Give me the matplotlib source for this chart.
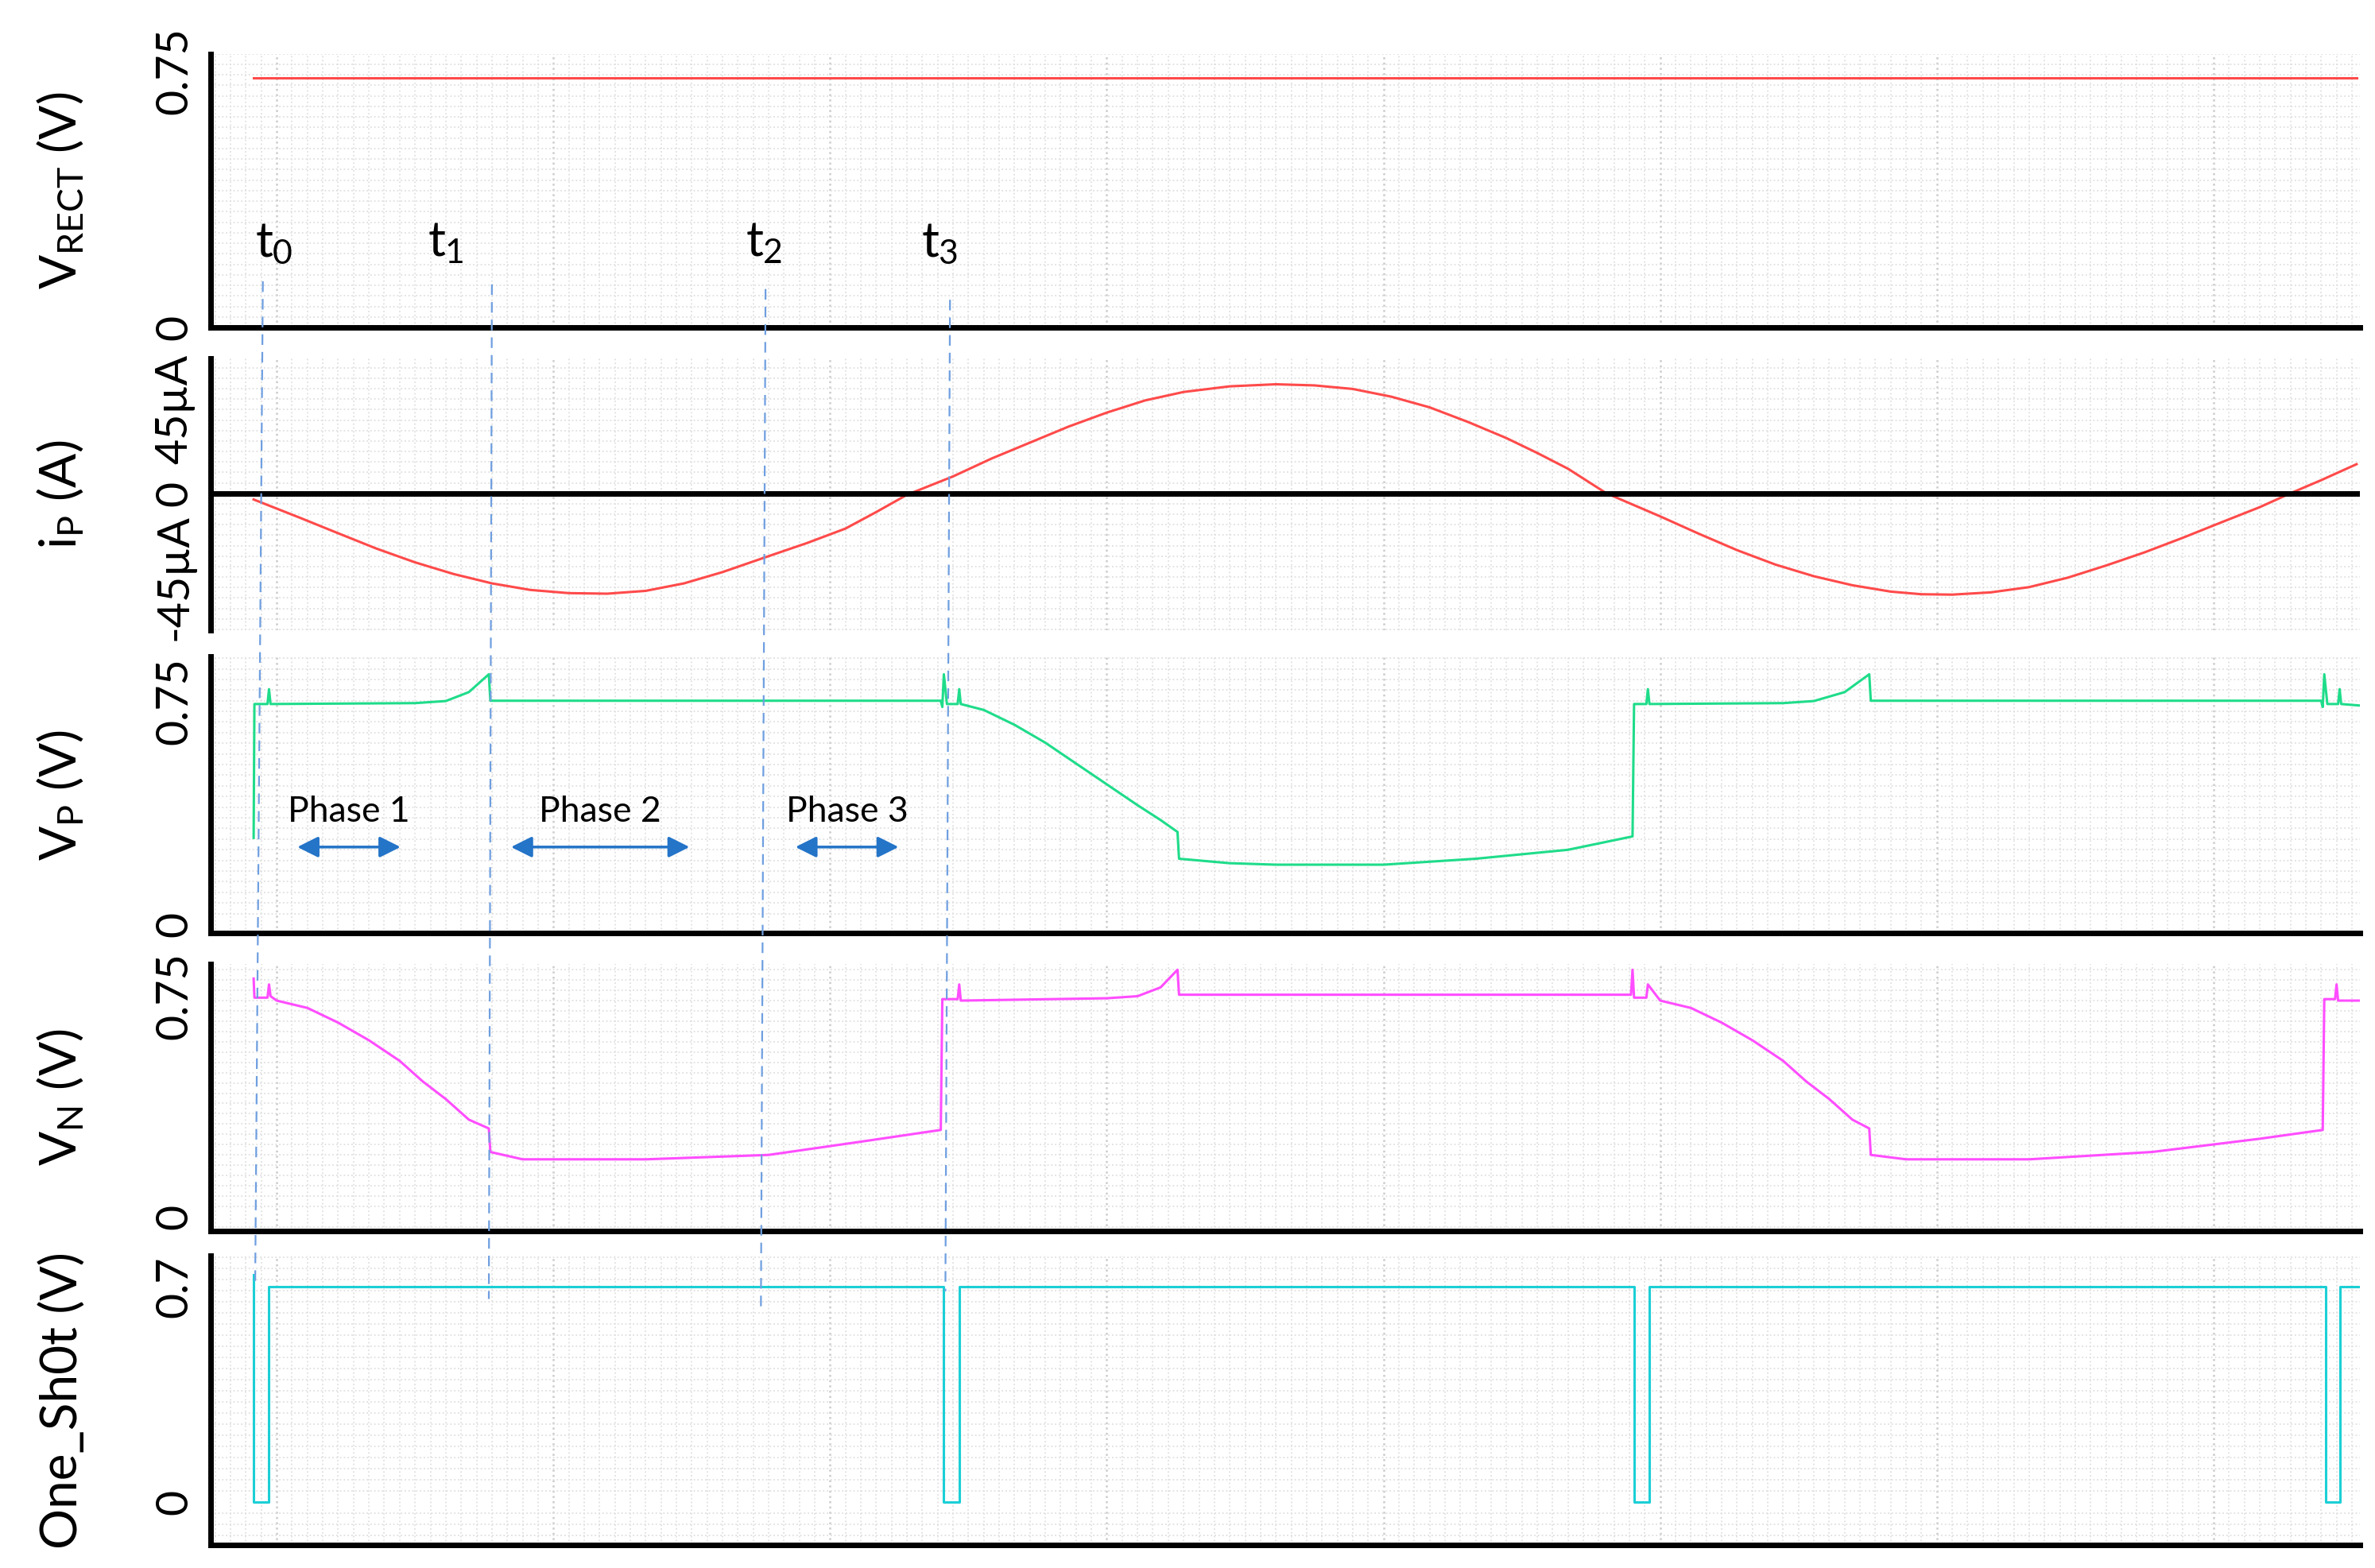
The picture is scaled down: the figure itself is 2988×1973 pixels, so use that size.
import matplotlib.pyplot as plt
from matplotlib.ticker import MultipleLocator, FixedLocator

plt.rcParams['font.family'] = ['Lato', 'DejaVu Sans']
plt.rcParams['mathtext.fontset'] = 'custom'
plt.rcParams['mathtext.rm'] = 'Lato'
plt.rcParams['mathtext.it'] = 'Lato'

# time axis in arbitrary units (picture columns)
T_START, T_END = 137, 1535

# V_RECT (V)
vrect_t = [165, 1533]
vrect_v = [0.73, 0.73]

# i_P (uA)
ip_t = [165, 195, 220, 245, 270, 295, 320, 345, 370, 395, 420, 445, 470, 500, 525, 550,
        570, 590, 620, 645, 670, 695, 720, 745, 770, 800, 830, 855, 880, 905, 930, 955,
        980, 1000, 1020, 1045, 1080, 1105, 1130, 1155, 1180, 1205, 1230, 1250, 1270,
        1295, 1320, 1345, 1370, 1395, 1420, 1445, 1470, 1490, 1510, 1533]
ip_v = [-3.3, -13.0, -21.3, -29.5, -36.8, -43.0, -48.0, -51.5, -53.2, -53.5, -52.0,
        -48.0, -42.0, -33.5, -26.5, -18.8, -10.0, -0.8, 9.0, 18.5, 27.0, 35.5, 43.0,
        49.5, 54.0, 57.0, 58.1, 57.5, 55.6, 51.5, 45.8, 38.0, 29.4, 21.5, 13.1, 0.0,
        -12.3, -21.5, -30.3, -38.0, -44.2, -49.0, -52.4, -53.8, -54.0, -52.8, -50.0,
        -45.0, -38.5, -31.5, -23.7, -15.5, -7.4, 0.0, 7.0, 15.5]

# V_P (V)
vp_t = [165, 165.5, 174, 175, 176, 270, 290, 305, 318, 319, 612, 613, 614, 616, 623,
        624, 625, 640, 660, 680, 700, 720, 740, 755, 766, 767, 800, 830, 900, 960, 1020,
        1062, 1063, 1071, 1072, 1073, 1160, 1180, 1200, 1216, 1217, 1510, 1511, 1512,
        1514, 1521, 1522, 1523, 1535]
vp_v = [0.29, 0.74, 0.74, 0.79, 0.74, 0.743, 0.75, 0.78, 0.84, 0.751, 0.751, 0.73,
        0.84, 0.74, 0.74, 0.79, 0.74, 0.72, 0.67, 0.61, 0.54, 0.47, 0.40, 0.35, 0.31,
        0.22, 0.205, 0.20, 0.20, 0.22, 0.25, 0.295, 0.74, 0.74, 0.79, 0.74, 0.743, 0.75,
        0.78, 0.84, 0.751, 0.751, 0.73, 0.84, 0.74, 0.74, 0.79, 0.74, 0.735]

# V_N (V)
vn_t = [165, 165.5, 174, 175, 176, 180, 200, 220, 240, 260, 275, 290, 305, 318, 319,
        340, 420, 500, 560, 612, 613, 623, 624, 625, 720, 740, 755, 766, 767, 1061,
        1062, 1063, 1071, 1072, 1080, 1100, 1120, 1140, 1160, 1175, 1190, 1205, 1216,
        1217, 1240, 1320, 1400, 1470, 1511, 1512, 1519, 1520, 1521, 1535]
vn_v = [0.81, 0.745, 0.745, 0.79, 0.75, 0.735, 0.71, 0.66, 0.60, 0.53, 0.46, 0.40,
        0.33, 0.30, 0.22, 0.195, 0.195, 0.21, 0.255, 0.295, 0.74, 0.74, 0.79, 0.735,
        0.743, 0.75, 0.78, 0.84, 0.755, 0.755, 0.84, 0.745, 0.745, 0.79, 0.735, 0.71,
        0.66, 0.60, 0.53, 0.46, 0.40, 0.33, 0.30, 0.21, 0.195, 0.195, 0.22, 0.265,
        0.295, 0.74, 0.74, 0.79, 0.735, 0.735]

# One_Sh0t (V)
os_t = [165, 165, 175, 175, 614, 614, 624, 624, 1063, 1063, 1073, 1073, 1513, 1513,
        1522, 1522, 1535]
os_v = [0.74, 0.0, 0.0, 0.7, 0.7, 0.0, 0.0, 0.7, 0.7, 0.0, 0.0, 0.7, 0.7, 0.0, 0.0,
        0.7, 0.7]

# event markers
t_names = ['$t_0$', '$t_1$', '$t_2$', '$t_3$']
t_label_x = [178, 290, 497, 611]
phase_names = ['Phase 1', 'Phase 2', 'Phase 3']
phase_span = [(192, 262), (331, 450), (516, 586)]

W, H = 1545, 1020
fig = plt.figure(figsize=(29.88, 19.73), dpi=100)

panels = [
    # top, bottom, ylim, yticks, yticklabels, ylabel
    (35, 213, (0, 0.8), [0, 0.75], ['0', '0.75'], 'V$_{RECT}$ (V)'),
    (233, 410, (-73, 72), [-45, 0, 45], ['-45µA', '0', '45µA'], 'i$_P$ (A)'),
    (427, 607, (-0.03, 0.90), [0, 0.75], ['0', '0.75'], 'V$_P$ (V)'),
    (627, 801, (-0.05, 0.86), [0, 0.75], ['0', '0.75'], 'V$_N$ (V)'),
    (817, 1005, (-0.14, 0.8), [0, 0.7], ['0', '0.7'], 'One_Sh0t (V)'),
]
series = [
    (vrect_t, vrect_v, '#ff4a4a'),
    (ip_t, ip_v, '#ff4a4a'),
    (vp_t, vp_v, '#1fdc8a'),
    (vn_t, vn_v, '#ff4dff'),
    (os_t, os_v, '#1ccfd6'),
]

axes = []
for (top, bot, ylim, yt, ytl, ylab), (xs, ys, col) in zip(panels, series):
    ax = fig.add_axes([T_START / W, 1 - bot / H, (T_END - T_START) / W, (bot - top) / H])
    ax.plot(xs, ys, color=col, lw=2.2, zorder=3)
    ax.set_xlim(T_START, T_END)
    ax.set_ylim(*ylim)
    ax.xaxis.set_major_locator(MultipleLocator(180))
    ax.xaxis.set_minor_locator(MultipleLocator(10))
    span = ylim[1] - ylim[0]
    ax.yaxis.set_minor_locator(MultipleLocator(span / 26))
    ax.grid(which='minor', color='#e0e0e0', ls=':', lw=1.3)
    ax.grid(which='major', axis='x', color='#cccccc', ls=':', lw=1.8)
    ax.yaxis.set_major_locator(FixedLocator(yt))
    ax.set_yticklabels(ytl, rotation=90, va='center', fontsize=40)
    ax.tick_params(axis='y', which='both', length=0, pad=14)
    ax.tick_params(axis='x', which='both', length=0, labelbottom=False)
    ax.set_ylabel(ylab, fontsize=46)
    ax.yaxis.set_label_coords(-0.058, 0.5)
    for s in ['top', 'right']:
        ax.spines[s].set_visible(False)
    ax.spines['left'].set_linewidth(5)
    ax.spines['bottom'].set_linewidth(5)
    axes.append(ax)

# current panel: thick zero line instead of bottom spine
axes[1].spines['bottom'].set_visible(False)
axes[1].axhline(0, color='black', lw=5, zorder=4)
axes[1].grid(which='major', axis='y', visible=False)

# overlay for markers across panels
ov = fig.add_axes([0, 0, 1, 1], zorder=10)
ov.set_xlim(0, W)
ov.set_ylim(H, 0)
ov.axis('off')

dash_lines = [((171, 183), (166, 835)), ((320, 185), (318, 845)),
              ((498, 188), (495, 850)), ((618, 195), (615, 840))]
for (x0, y0), (x1, y1) in dash_lines:
    ov.plot([x0, x1], [y0, y1], color='#6f9fe0', lw=1.6, ls=(0, (6, 4)))

for name, x in zip(t_names, t_label_x):
    ov.text(x, 158, name, fontsize=44, ha='center', va='center')

for name, (a, b) in zip(phase_names, phase_span):
    ov.annotate('', xy=(a, 551), xytext=(b, 551),
                arrowprops=dict(arrowstyle='<|-|>', color='#2474c8', lw=2.5,
                                mutation_scale=40))
    ov.text((a + b) / 2, 528, name, fontsize=32, ha='center', va='center')

fig.savefig('out.png', dpi=100)
